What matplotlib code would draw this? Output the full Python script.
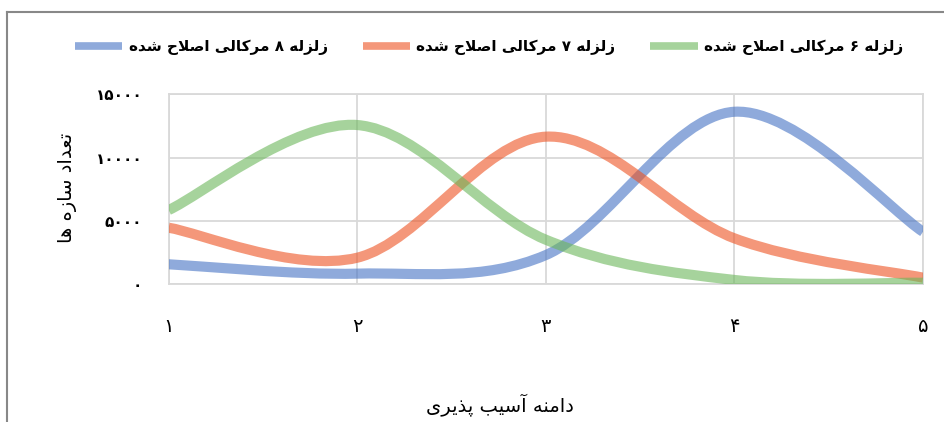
import matplotlib
matplotlib.use('Agg')
import matplotlib.pyplot as plt
from matplotlib.path import Path
from matplotlib.patches import PathPatch
from matplotlib.lines import Line2D

# داده ها
x_vals = [1, 2, 3, 4, 5]
mercalli8 = [1560, 820, 2290, 13620, 4130]
mercalli7 = [4450, 2080, 11650, 3610, 500]
mercalli6 = [5850, 12570, 3500, 320, 100]

series_labels = ['زلزله ۸ مرکالی اصلاح شده',
                 'زلزله ۷ مرکالی اصلاح شده',
                 'زلزله ۶ مرکالی اصلاح شده']
series_colors = ['#4472C4', '#ED5221', '#6BB75A']
x_ticklabels = ['۱', '۲', '۳', '۴', '۵']
y_ticks = [0, 5000, 10000, 15000]
y_ticklabels = ['۰', '۵۰۰۰', '۱۰۰۰۰', '۱۵۰۰۰']
x_title = 'دامنه آسیب پذیری'
y_title = 'تعداد سازه ها'

# isolated, final, initial, medial
FORMS = {
    'ا': ('\uFE8D', '\uFE8E', None, None),
    'آ': ('\uFE81', '\uFE82', None, None),
    'ب': ('\uFE8F', '\uFE90', '\uFE91', '\uFE92'),
    'پ': ('\uFB56', '\uFB57', '\uFB58', '\uFB59'),
    'ت': ('\uFE95', '\uFE96', '\uFE97', '\uFE98'),
    'ح': ('\uFEA1', '\uFEA2', '\uFEA3', '\uFEA4'),
    'د': ('\uFEA9', '\uFEAA', None, None),
    'ذ': ('\uFEAB', '\uFEAC', None, None),
    'ر': ('\uFEAD', '\uFEAE', None, None),
    'ز': ('\uFEAF', '\uFEB0', None, None),
    'س': ('\uFEB1', '\uFEB2', '\uFEB3', '\uFEB4'),
    'ش': ('\uFEB5', '\uFEB6', '\uFEB7', '\uFEB8'),
    'ص': ('\uFEB9', '\uFEBA', '\uFEBB', '\uFEBC'),
    'ع': ('\uFEC9', '\uFECA', '\uFECB', '\uFECC'),
    'ک': ('\uFB8E', '\uFB8F', '\uFB90', '\uFB91'),
    'ل': ('\uFEDD', '\uFEDE', '\uFEDF', '\uFEE0'),
    'م': ('\uFEE1', '\uFEE2', '\uFEE3', '\uFEE4'),
    'ن': ('\uFEE5', '\uFEE6', '\uFEE7', '\uFEE8'),
    'ه': ('\uFEE9', '\uFEEA', '\uFEEB', '\uFEEC'),
    'ی': ('\uFBFC', '\uFBFD', '\uFBFE', '\uFBFF'),
}
LAM_ALEF = {'ا': ('\uFEFB', '\uFEFC'), 'آ': ('\uFEF5', '\uFEF6')}


def fa(text):
    # شکل دادن حروف و برگرداندن ترتیب برای نمایش
    out = []
    i = 0
    prev_joins = False
    while i < len(text):
        c = text[i]
        nxt = text[i + 1] if i + 1 < len(text) else None
        if c not in FORMS:
            out.append(c)
            prev_joins = False
            i += 1
            continue
        if c == 'ل' and nxt in LAM_ALEF:
            out.append(LAM_ALEF[nxt][1 if prev_joins else 0])
            prev_joins = False
            i += 2
            continue
        iso, fin, ini, med = FORMS[c]
        b = ini is not None and nxt in FORMS
        if prev_joins and b:
            out.append(med)
        elif prev_joins:
            out.append(fin)
        elif b:
            out.append(ini)
        else:
            out.append(iso)
        prev_joins = ini is not None
        i += 1
    return ''.join(reversed(out))


def smooth_path(xs, ys):
    pts = list(zip(xs, ys))
    n = len(pts)
    verts = [pts[0]]
    codes = [Path.MOVETO]
    for i in range(n - 1):
        p0 = pts[i - 1] if i > 0 else pts[i]
        p1 = pts[i]
        p2 = pts[i + 1]
        p3 = pts[i + 2] if i + 2 < n else pts[i + 1]
        c1 = (p1[0] + (p2[0] - p0[0]) / 6, p1[1] + (p2[1] - p0[1]) / 6)
        c2 = (p2[0] - (p3[0] - p1[0]) / 6, p2[1] - (p3[1] - p1[1]) / 6)
        verts += [c1, c2, p2]
        codes += [Path.CURVE4] * 3
    return Path(verts, codes)


plt.rcParams['font.family'] = ['DejaVu Sans']

fig = plt.figure(figsize=(9.45, 4.22), dpi=100)
ax = fig.add_axes([168.7 / 945, 1 - 284 / 422, (923 - 168.7) / 945, (284 - 94.3) / 422])

lw = 7.3
handles = []
for ys, col, lab in zip([mercalli8, mercalli7, mercalli6], series_colors, series_labels):
    patch = PathPatch(smooth_path(x_vals, ys), facecolor='none', edgecolor=col,
                      lw=lw, alpha=0.6, capstyle='butt', joinstyle='round', zorder=3)
    ax.add_patch(patch)
    handles.append(Line2D([], [], color=col, lw=5.5, alpha=0.6, solid_capstyle='butt'))

ax.set_xlim(1, 5)
ax.set_ylim(0, 15000)
ax.set_xticks(x_vals)
ax.set_xticklabels(x_ticklabels, fontsize=14)
ax.set_yticks(y_ticks)
ax.set_yticklabels(y_ticklabels, fontsize=11, fontweight='bold')
ax.tick_params(axis='both', length=0)
ax.tick_params(axis='x', pad=24)
ax.tick_params(axis='y', pad=19)
ax.grid(True, color='#D9D9D9', lw=1.3, zorder=0)
ax.set_axisbelow(True)
for s in ax.spines.values():
    s.set_color('#D9D9D9')
    s.set_linewidth(1.3)

fig.text(68 / 945, 1 - 188 / 422, fa(y_title), rotation=90, ha='center', va='center', fontsize=14)
fig.text(500 / 945, 1 - 405 / 422, fa(x_title), ha='center', va='center', fontsize=14)

leg = fig.legend(handles, [fa(t) for t in series_labels], loc='center', ncol=3,
                 bbox_to_anchor=(489 / 945, 1 - 47 / 422), frameon=False,
                 prop={'size': 11, 'weight': 'bold'}, handlelength=3.1,
                 handletextpad=0.4, columnspacing=2.3)

# قاب بیرونی نمودار
fig.add_artist(Line2D([7.5 / 945, 7.5 / 945], [0, 1 - 11.5 / 422], transform=fig.transFigure,
                      color='#888888', lw=1.5))
fig.add_artist(Line2D([7.5 / 945, 1], [1 - 11.5 / 422, 1 - 11.5 / 422], transform=fig.transFigure,
                      color='#888888', lw=1.5))

fig.savefig('out.png', dpi=100)
